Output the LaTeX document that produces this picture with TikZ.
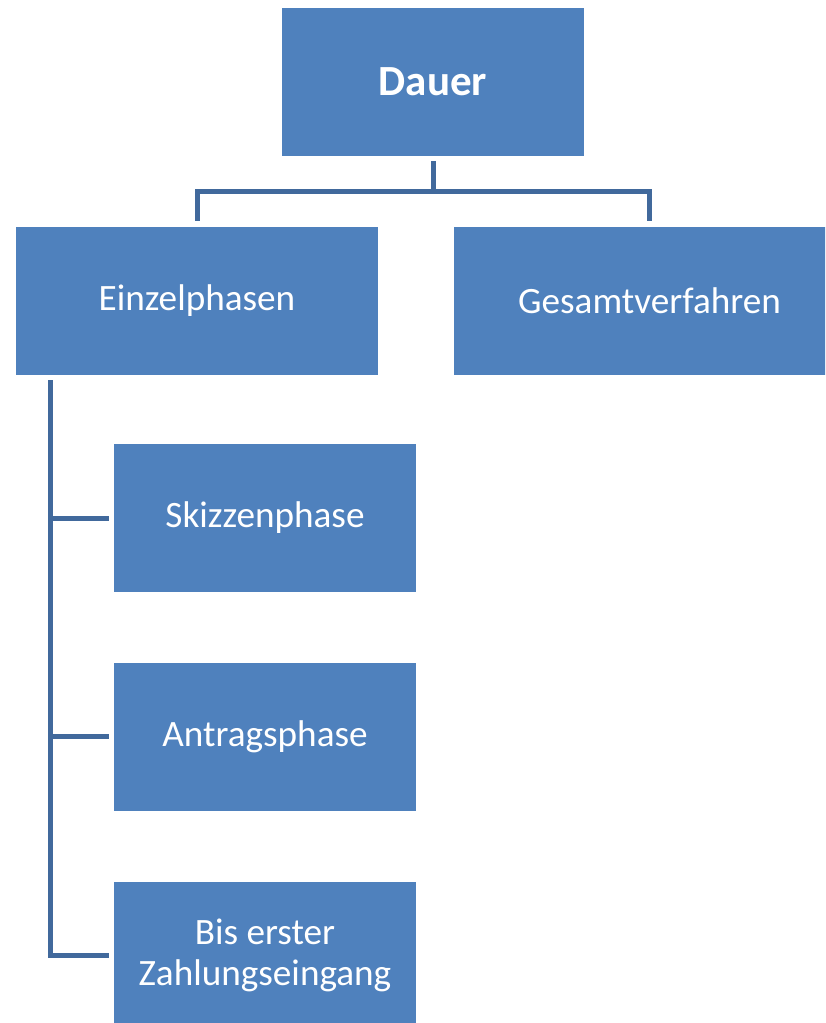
\documentclass[tikz,border=0pt]{standalone}
\usepackage{fontspec}
\setmainfont{Carlito}
\definecolor{boxblue}{HTML}{4F81BD}
\definecolor{linkblue}{HTML}{41699C}
\begin{document}
\begin{tikzpicture}[x=1pt,y=-1pt,
  box/.style={fill=boxblue, text=white, inner sep=0pt, outer sep=5.5pt,
    minimum height=148pt, align=center,
    font=\fontsize{37.2}{41}\selectfont},
  link/.style={draw=linkblue, line width=5pt}]
\useasboundingbox (0,0) rectangle (825,1023);
\begin{scope}
\clip (0,0) rectangle (825,1023);
% top level
\node[box, minimum width=302pt, font=\fontsize{43}{50}\selectfont\bfseries] (dauer) at (433,81.5) {Dauer};
% second level
\node[box, minimum width=362pt] (einz) at (197,300.5) {Einzelphasen};
\node[box, minimum width=391pt] (gesamt) at (649.5,300.5) {Gesamtverfahren};
% phases below Einzelphasen
\node[box, minimum width=302pt] (skiz) at (265,518) {Skizzenphase};
\node[box, minimum width=302pt] (antrag) at (265,736.5) {Antragsphase};
\node[box, minimum width=302pt] (bis) at (265,955.5) {Bis erster\\Zahlungseingang};
% tree connectors
\coordinate (branch) at ([yshift=-30.5pt]dauer.south);
\draw[link] (dauer.south) -- (branch) -| (einz.north);
\draw[link] (branch) -| (gesamt.north);
\coordinate (spine) at ([xshift=39.5pt]einz.south west);
\draw[link] (spine) |- (bis.west);
\draw[link] (spine |- skiz.west) -- (skiz.west);
\draw[link] (spine |- antrag.west) -- (antrag.west);
\end{scope}
\end{tikzpicture}
\end{document}
